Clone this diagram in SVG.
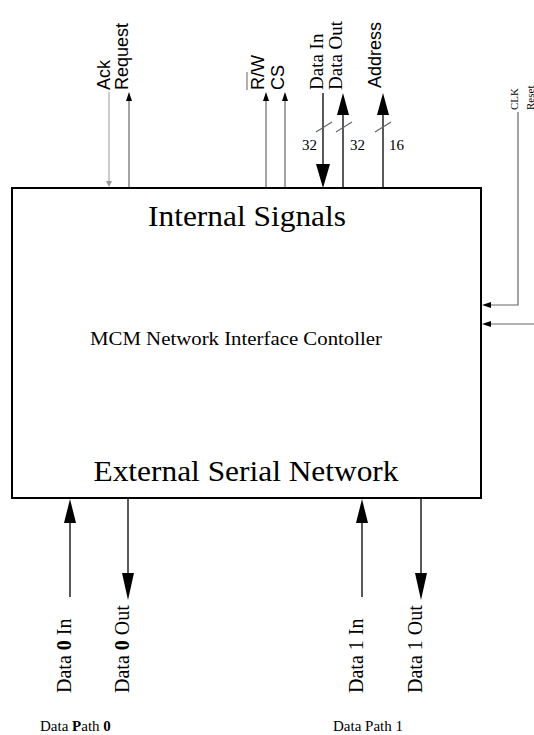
<svg xmlns="http://www.w3.org/2000/svg" width="534" height="735" viewBox="0 0 534 735">
<style>
.sans{font-family:"Liberation Sans",Arial,sans-serif;fill:#000}
.serif{font-family:"Liberation Serif","Times New Roman",serif;fill:#000}
.thin{stroke:#666;stroke-width:1.2;fill:none}
.bus{stroke:#222;stroke-width:1.5;fill:none}
.head{fill:#000}
</style>
<rect width="534" height="735" fill="#fff"/>
<g id="controller">
<rect x="12" y="188" width="469" height="310" fill="#fff" stroke="#000" stroke-width="2"/>
<text class="serif" x="247" y="226" font-size="30" text-anchor="middle" textLength="198" lengthAdjust="spacingAndGlyphs">Internal Signals</text>
<text class="serif" x="236" y="345" font-size="18" text-anchor="middle" textLength="292" lengthAdjust="spacingAndGlyphs">MCM Network Interface Contoller</text>
<text class="serif" x="246" y="481" font-size="30" text-anchor="middle" textLength="305" lengthAdjust="spacingAndGlyphs">External Serial Network</text>
</g>
<g id="connectors">
<line x1="109" y1="92" x2="109" y2="182" stroke="#aaa" stroke-width="1.2"/>
<path d="M106,181 L112,181 L109,187 Z" fill="#999"/>
<line class="thin" x1="129" y1="100" x2="129" y2="187"/>
<path class="head" d="M129,92 L126,101 L132,101 Z"/>
<line class="thin" x1="266" y1="100" x2="266" y2="187"/>
<path class="head" d="M266,92 L263,101 L269,101 Z"/>
<line class="thin" x1="285" y1="100" x2="285" y2="187"/>
<path class="head" d="M285,92 L282,101 L288,101 Z"/>
<line class="bus" x1="323" y1="93" x2="323" y2="166"/>
<path class="head" d="M316,164 L330,164 L323,188 Z"/>
<line class="thin" x1="316" y1="132" x2="332" y2="122"/>
<line class="bus" x1="343" y1="112" x2="343" y2="187"/>
<path class="head" d="M343,93 L337,115 L349,115 Z"/>
<line class="thin" x1="336" y1="132" x2="352" y2="122"/>
<line class="bus" x1="383" y1="112" x2="383" y2="187"/>
<path class="head" d="M383,93 L377,115 L389,115 Z"/>
<line class="thin" x1="375" y1="132" x2="391" y2="122"/>
<polyline class="thin" points="518,112 518,305 488,305"/>
<path class="head" d="M482,305 L491,302 L491,308 Z"/>
<line class="thin" x1="534" y1="324" x2="488" y2="324"/>
<path class="head" d="M482,324 L491,321 L491,327 Z"/>
<line class="bus" x1="70" y1="520" x2="70" y2="597"/>
<path class="head" d="M70,499 L64,523 L76,523 Z"/>
<line class="bus" x1="128" y1="499" x2="128" y2="576"/>
<path class="head" d="M122,573 L134,573 L128,600 Z"/>
<line class="bus" x1="362" y1="520" x2="362" y2="597"/>
<path class="head" d="M362,499 L356,523 L368,523 Z"/>
<line class="bus" x1="421" y1="499" x2="421" y2="576"/>
<path class="head" d="M415,573 L427,573 L421,600 Z"/>
</g>
<g id="labels">
<text class="sans" font-size="18" transform="translate(110,90) rotate(-90)">Ack</text>
<text class="sans" font-size="18" transform="translate(128,90) rotate(-90)">Request</text>
<line x1="247" y1="72" x2="247" y2="90" stroke="#999" stroke-width="1.5"/>
<text class="sans" font-size="18" transform="translate(264,90) rotate(-90)">R/W</text>
<text class="sans" font-size="18" transform="translate(284,90) rotate(-90)">CS</text>
<text class="serif" font-size="19" transform="translate(323,90) rotate(-90)">Data In</text>
<text class="serif" font-size="19" transform="translate(342,90) rotate(-90)">Data Out</text>
<text class="sans" font-size="18" transform="translate(381,88) rotate(-90)">Address</text>
<text class="serif" font-size="15" x="302" y="150">32</text>
<text class="serif" font-size="15" x="350" y="150">32</text>
<text class="serif" font-size="15" x="389" y="150">16</text>
<text class="serif" font-size="11" transform="translate(518,110) rotate(-90)">CLK</text>
<text class="serif" font-size="11" transform="translate(534,110) rotate(-90)">Reset</text>
<text class="serif" font-size="20" transform="translate(71,693) rotate(-90)">Data <tspan font-weight="bold">0</tspan> In</text>
<text class="serif" font-size="20" transform="translate(129,693) rotate(-90)">Data <tspan font-weight="bold">0</tspan> Out</text>
<text class="serif" font-size="20" transform="translate(363,693) rotate(-90)">Data 1 In</text>
<text class="serif" font-size="20" transform="translate(422,693) rotate(-90)">Data 1 Out</text>
<text class="serif" font-size="15" x="40" y="731">Data <tspan font-weight="bold">P</tspan>ath <tspan font-weight="bold">0</tspan></text>
<text class="serif" font-size="15" x="333" y="731">Data Path 1</text>
</g>
</svg>
